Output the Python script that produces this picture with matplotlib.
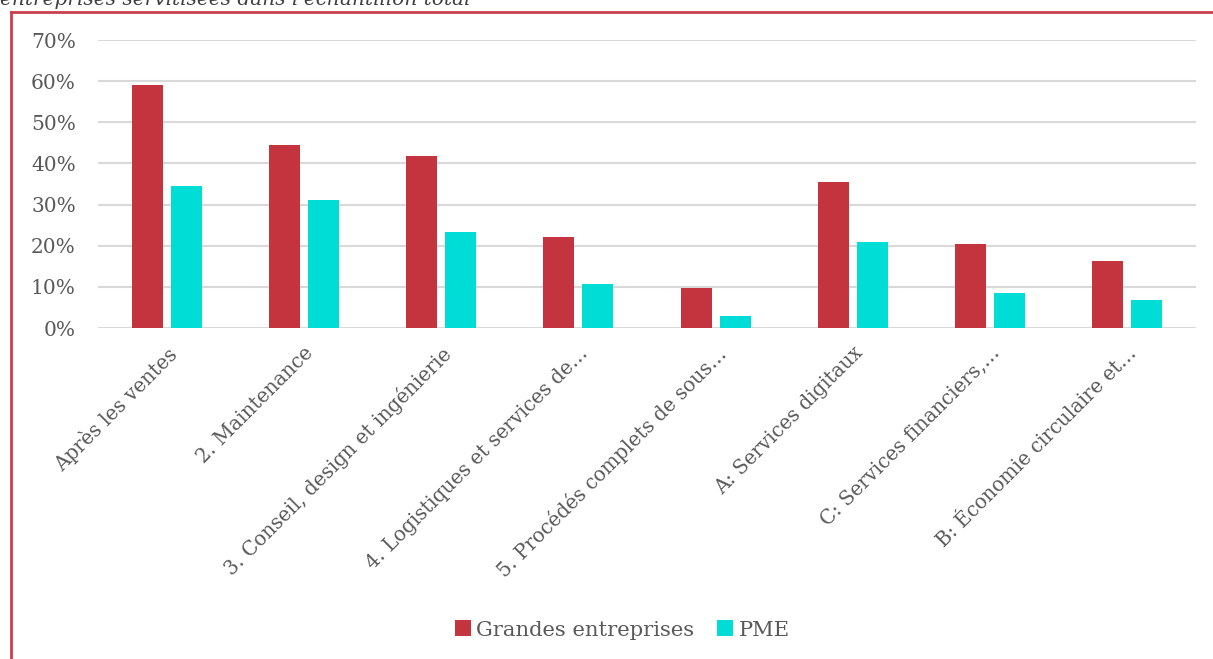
import numpy as np
import matplotlib.pyplot as plt
from matplotlib.lines import Line2D
from matplotlib.ticker import FuncFormatter

categories = [
    "Après les ventes",
    "2. Maintenance",
    "3. Conseil, design et ingénierie",
    "4. Logistiques et services de…",
    "5. Procédés complets de sous…",
    "A: Services digitaux",
    "C: Services financiers,…",
    "B: Économie circulaire et…",
]
grandes = [0.590, 0.446, 0.419, 0.221, 0.097, 0.356, 0.205, 0.163]
pme = [0.344, 0.312, 0.233, 0.106, 0.028, 0.209, 0.085, 0.068]

red = "#C3343F"
teal = "#00DCD6"
grey_txt = "#595959"

plt.rcParams["font.family"] = ["DejaVu Serif"]

fig = plt.figure(figsize=(12.13, 6.59), dpi=100)
ax = fig.add_axes([98 / 1213, 1 - 328 / 659, 1098 / 1213, 288 / 659])

x = np.arange(len(categories))
w = 0.226
off = 0.142
ax.bar(x - off, grandes, w, color=red, label="Grandes entreprises", zorder=3)
ax.bar(x + off, pme, w, color=teal, label="PME", zorder=3)

ax.set_xlim(-0.5, len(categories) - 0.5)
ax.set_ylim(0, 0.70)
ax.set_yticks(np.arange(0, 0.71, 0.1))
ax.yaxis.set_major_formatter(FuncFormatter(lambda v, _: f"{v * 100:.0f}%"))
ax.grid(axis="y", color="#d9d9d9", lw=1.5, zorder=0)
for s in ax.spines.values():
    s.set_visible(False)
ax.tick_params(axis="y", length=0, pad=16, labelsize=14.5, labelcolor=grey_txt)
ax.tick_params(axis="x", length=0, pad=11)
ax.set_xticks(x)
ax.set_xticklabels(categories, rotation=45, ha="right", rotation_mode="anchor",
                   fontsize=14.2, color=grey_txt)

fig.legend(loc="center", bbox_to_anchor=(0.513, 1 - 630 / 659), ncol=2, frameon=False,
           fontsize=15.2, labelcolor=grey_txt, handlelength=0.75, handleheight=0.75,
           handletextpad=0.25, columnspacing=1.1)

# framing lines and cut-off caption above the chart
fig.add_artist(Line2D([10.5 / 1213, 10.5 / 1213], [0, 1 - 11.5 / 659],
                      color="#C8404D", lw=2))
fig.add_artist(Line2D([10.5 / 1213, 1], [1 - 11.5 / 659, 1 - 11.5 / 659],
                      color="#C8404D", lw=2))
fig.text(0.0, 1 - 5 / 659, "entreprises servitisées dans l'échantillon total",
         fontsize=14.5, style="italic", color="#404040", va="baseline", ha="left")

fig.savefig("out.png", dpi=100)
